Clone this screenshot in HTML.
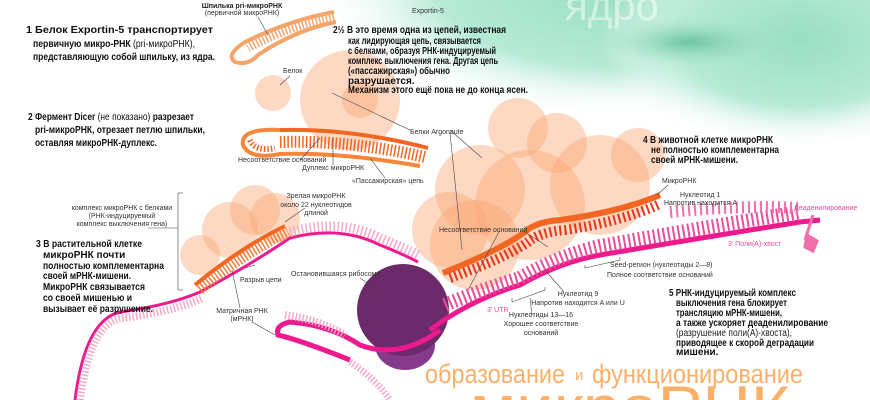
<!DOCTYPE html>
<html><head><meta charset="utf-8"><style>
html,body{margin:0;padding:0;background:#fff;width:870px;height:400px;overflow:hidden}
svg{display:block}
text{font-family:"Liberation Sans",sans-serif;fill:#222}
.b{font-weight:bold;font-size:10px;fill:#111}
.s{font-size:7px;fill:#333}
.p{font-size:7px;fill:#ec4d9a}
</style></head><body>
<svg width="870" height="400" viewBox="0 0 870 400" xmlns="http://www.w3.org/2000/svg" overflow="hidden">
<defs>
<radialGradient id="g1" cx="0.5" cy="0.5" r="0.5">
<stop offset="0" stop-color="#98dec2"/><stop offset="0.6" stop-color="#b6ead6"/><stop offset="1" stop-color="#ffffff" stop-opacity="0"/>
</radialGradient>
<radialGradient id="g2" cx="0.5" cy="0.5" r="0.5">
<stop offset="0" stop-color="#6cc4a0"/><stop offset="1" stop-color="#9fe0c6" stop-opacity="0"/>
</radialGradient>
</defs>
<ellipse cx="630" cy="-10" rx="320" ry="130" fill="url(#g1)"/>
<ellipse cx="800" cy="40" rx="200" ry="110" fill="url(#g1)"/>
<ellipse cx="690" cy="42" rx="85" ry="24" fill="url(#g2)"/>
<text x="565" y="20" style="font-size:42px;fill:#fff;fill-opacity:0.5">ядро</text>

<!-- circles -->
<g fill="#fba56f" fill-opacity="0.42">
<circle cx="273" cy="93" r="18"/>
<circle cx="350" cy="100" r="50"/>
<circle cx="360" cy="100" r="18"/>
<circle cx="518" cy="128" r="30"/>
<circle cx="557" cy="143" r="30"/>
<circle cx="480" cy="190" r="45"/>
<circle cx="530" cy="205" r="55"/>
<circle cx="475" cy="245" r="45"/>
<circle cx="600" cy="185" r="50"/>
<circle cx="638" cy="155" r="27"/>
<circle cx="450" cy="230" r="38"/>
<circle cx="230" cy="230" r="28"/>
<circle cx="255" cy="210" r="25"/>
<circle cx="275" cy="218" r="25"/>
<circle cx="200" cy="255" r="20"/>
</g>

<!-- hairpin 1 -->
<path d="M334,12 Q290,20 245,42 Q225,55 235,62 Q248,66 258,55 Q295,30 336,22" fill="none" stroke="#f7a46a" stroke-width="4"/>
<path d="M334,17 Q290,25 248,48" fill="none" stroke="#f7a46a" stroke-width="9" stroke-dasharray="1.5 2"/>

<!-- hairpin 2 duplex -->
<path d="M280,130 Q240,128 243,145 Q250,160 280,154 Q340,152 420,166" fill="none" stroke="#f6873a" stroke-width="4"/>
<path d="M280,130 Q350,128 428,148" fill="none" stroke="#f26522" stroke-width="4"/>
<path d="M280,142 Q350,140 425,157" fill="none" stroke="#f26522" stroke-width="12" stroke-dasharray="1.5 2.2"/>
<path d="M250,140 Q255,152 275,148" fill="none" stroke="#f26522" stroke-width="6" stroke-dasharray="1.5 2"/>

<!-- mRNA left -->
<path d="M75,400 Q85,320 120,312 Q170,305 200,292 Q250,265 290,238 Q340,225 380,245 Q405,255 418,262" fill="none" stroke="#ec1a8c" stroke-width="3"/>
<path d="M80,400 Q90,322 122,318 Q172,312 203,298" fill="none" stroke="#f7a8c9" stroke-width="8" stroke-dasharray="1.5 2"/>
<path d="M290,232 Q340,218 380,238 Q405,248 418,255" fill="none" stroke="#f7a8c9" stroke-width="10" stroke-dasharray="1.5 2.5"/>
<!-- mature miRNA left -->
<path d="M195,285 Q240,248 285,226" fill="none" stroke="#f26522" stroke-width="4"/>
<path d="M200,290 Q242,255 288,232" fill="none" stroke="#f47c3a" stroke-width="10" stroke-dasharray="1.5 2"/>

<!-- ribosome -->
<ellipse cx="405" cy="345" rx="30" ry="25" fill="#853a8c"/>
<circle cx="403" cy="310" r="46" fill="#6d2a6b"/>

<!-- mRNA loop through ribosome -->
<path d="M350,360 Q300,340 278,335 Q275,325 290,322 Q330,325 360,345 Q400,360 440,330" fill="none" stroke="#ec1a8c" stroke-width="5"/>
<path d="M285,315 Q320,320 345,335" fill="none" stroke="#f7a8c9" stroke-width="8" stroke-dasharray="1.5 2"/>
<path d="M350,362 Q375,378 390,400" fill="none" stroke="#f7a8c9" stroke-width="7" stroke-dasharray="1.5 2"/>

<!-- mRNA right -->
<path d="M430,330 Q470,300 520,285 Q560,262 600,255 Q700,238 800,222 L820,220" fill="none" stroke="#ec1a8c" stroke-width="5"/>
<path d="M445,305 Q480,290 520,278 Q560,255 600,246 Q700,228 800,212" fill="none" stroke="#ec4d9a" stroke-width="14" stroke-dasharray="2 3"/>
<path d="M670,212 Q740,205 800,208" fill="none" stroke="#f06ea9" stroke-width="12" stroke-dasharray="2 4"/>
<path d="M807,235 l10,6 -4,10 -8,-4z M805,240 l8,-25" fill="#f06ea9" stroke="#f06ea9" stroke-width="3"/>
<!-- miRNA right -->
<path d="M443,273 Q500,250 525,232 Q535,222 560,220 Q620,212 660,195" fill="none" stroke="#f26522" stroke-width="6"/>
<path d="M450,278 Q505,258 528,242 Q540,232 565,230 Q620,222 660,204" fill="none" stroke="#e8341c" stroke-width="10" stroke-dasharray="2 3"/>

<!-- leader lines -->
<g stroke="#444" stroke-width="0.6" fill="none">
<line x1="258" y1="17" x2="268" y2="35"/>
<line x1="290" y1="76" x2="280" y2="85"/>
<line x1="332" y1="93" x2="410" y2="130"/>
<line x1="450" y1="130" x2="482" y2="158"/>
<line x1="450" y1="133" x2="462" y2="250"/>
<line x1="300" y1="160" x2="320" y2="138"/>
<line x1="333" y1="165" x2="333" y2="138"/>
<line x1="385" y1="178" x2="370" y2="158"/>
<line x1="178" y1="193" x2="178" y2="290"/><line x1="178" y1="193" x2="183" y2="193"/><line x1="178" y1="290" x2="183" y2="290"/><line x1="148" y1="228" x2="178" y2="228"/>
<line x1="305" y1="208" x2="285" y2="222"/>
<line x1="245" y1="268" x2="255" y2="265"/>
<line x1="240" y1="308" x2="232" y2="270"/>
<line x1="252" y1="322" x2="275" y2="335"/>
<line x1="360" y1="278" x2="378" y2="290"/>
<line x1="500" y1="230" x2="468" y2="290"/>
<line x1="525" y1="232" x2="548" y2="247"/>
<line x1="668" y1="185" x2="657" y2="195"/>
<line x1="564" y1="292" x2="545" y2="270"/>
<line x1="532" y1="315" x2="530" y2="298"/>
<polyline points="512,298 512,302 545,290 545,287"/>
<polyline points="585,265 585,268 620,260 620,257"/>
</g>

<!-- texts -->
<text class="b" x="26" y="33" textLength="187" lengthAdjust="spacingAndGlyphs">1  Белок Exportin-5 транспортирует</text>
<text class="b" x="33" y="47" textLength="162" lengthAdjust="spacingAndGlyphs">первичную микро-РНК <tspan font-weight="normal">(pri-микроРНК),</tspan></text>
<text class="b" x="33" y="60" textLength="182" lengthAdjust="spacingAndGlyphs">представляющую собой шпильку, из ядра.</text>
<text x="242" y="8" text-anchor="middle" style="font-size:7px;font-weight:bold">Шпилька pri-микроРНК</text>
<text class="s" x="242" y="15" text-anchor="middle">(первичной микроРНК)</text>
<text class="s" x="412" y="13">Exportin-5</text>
<text class="b" x="333" y="33" textLength="173" lengthAdjust="spacingAndGlyphs">2½ В это время одна из цепей, известная</text>
<text class="b" x="348" y="44" textLength="133" lengthAdjust="spacingAndGlyphs">как лидирующая цепь, связывается</text>
<text class="b" x="348" y="54" textLength="148" lengthAdjust="spacingAndGlyphs">с белками, образуя РНК-индуцируемый</text>
<text class="b" x="348" y="64" textLength="150" lengthAdjust="spacingAndGlyphs">комплекс выключения гена. Другая цепь</text>
<text class="b" x="348" y="74" textLength="102" lengthAdjust="spacingAndGlyphs">(«пассажирская») обычно</text>
<text class="b" x="348" y="84">разрушается.</text>
<text class="b" x="348" y="93" textLength="180" lengthAdjust="spacingAndGlyphs">Механизм этого ещё пока не до конца ясен.</text>
<text class="s" x="283" y="73">Белок</text>
<text class="s" x="410" y="134">Белки Argonaute</text>
<text class="b" x="28" y="120" textLength="166" lengthAdjust="spacingAndGlyphs">2 Фермент Dicer <tspan font-weight="normal">(не показано)</tspan> разрезает</text>
<text class="b" x="35" y="133" textLength="170" lengthAdjust="spacingAndGlyphs">pri-микроРНК, отрезает петлю шпильки,</text>
<text class="b" x="35" y="146" textLength="122" lengthAdjust="spacingAndGlyphs">оставляя микроРНК-дуплекс.</text>
<text class="s" x="238" y="162">Несоответствие оснований</text>
<text class="s" x="302" y="170">Дуплекс микроРНК</text>
<text class="s" x="352" y="183">«Пассажирская» цепь</text>
<text class="b" x="643" y="143" textLength="130" lengthAdjust="spacingAndGlyphs">4 В животной клетке микроРНК</text>
<text class="b" x="651" y="153" textLength="128" lengthAdjust="spacingAndGlyphs">не полностью комплементарна</text>
<text class="b" x="651" y="163" textLength="87" lengthAdjust="spacingAndGlyphs">своей мРНК-мишени.</text>
<text class="s" x="662" y="183">МикроРНК</text>
<text class="s" x="680" y="197">Нуклеотид 1</text>
<text class="s" x="664" y="205">Напротив находится A</text>
<text class="p" x="794" y="210">Деаденилирование</text>
<text class="p" x="728" y="246">3' Поли(A)-хвост</text>
<text class="s" x="439" y="232">Несоответствие оснований</text>
<text class="s" x="610" y="267">Seed-регион (нуклеотиды 2—8)</text>
<text class="s" x="607" y="277">Полное соответствие оснований</text>
<text class="s" x="578" y="296" text-anchor="middle">Нуклеотид 9</text>
<text class="s" x="578" y="305" text-anchor="middle">Напротив находится A или U</text>
<text class="s" x="541" y="317" text-anchor="middle">Нуклеотиды 13—16</text>
<text class="s" x="541" y="326" text-anchor="middle">Хорошее соответствие</text>
<text class="s" x="541" y="335" text-anchor="middle">оснований</text>
<text class="p" x="487" y="312">3' UTR</text>
<text class="b" x="669" y="296" textLength="127" lengthAdjust="spacingAndGlyphs">5 РНК-индуцируемый комплекс</text>
<text class="b" x="676" y="306" textLength="111" lengthAdjust="spacingAndGlyphs">выключения гена блокирует</text>
<text class="b" x="676" y="316" textLength="106" lengthAdjust="spacingAndGlyphs">трансляцию мРНК-мишени,</text>
<text class="b" x="676" y="326" textLength="152" lengthAdjust="spacingAndGlyphs">а также ускоряет деаденилирование</text>
<text x="676" y="336" style="font-size:10px" textLength="116" lengthAdjust="spacingAndGlyphs">(разрушение поли(A)-хвоста),</text>
<text class="b" x="676" y="346" textLength="138" lengthAdjust="spacingAndGlyphs">приводящее к скорой деградации</text>
<text class="b" x="676" y="355">мишени.</text>
<text class="s" x="122" y="210" text-anchor="middle">комплекс микроРНК с белками</text>
<text class="s" x="122" y="218" text-anchor="middle">(РНК-индуцируемый</text>
<text class="s" x="122" y="226" text-anchor="middle">комплекс выключения гена)</text>
<text class="b" x="36" y="247" textLength="106" lengthAdjust="spacingAndGlyphs">3 В растительной клетке</text>
<text class="b" x="43" y="258">микроРНК почти</text>
<text class="b" x="43" y="269" textLength="121" lengthAdjust="spacingAndGlyphs">полностью комплементарна</text>
<text class="b" x="43" y="279" textLength="88" lengthAdjust="spacingAndGlyphs">своей мРНК-мишени.</text>
<text class="b" x="43" y="290" textLength="102" lengthAdjust="spacingAndGlyphs">МикроРНК связывается</text>
<text class="b" x="43" y="301" textLength="89" lengthAdjust="spacingAndGlyphs">со своей мишенью и</text>
<text class="b" x="43" y="312" textLength="110" lengthAdjust="spacingAndGlyphs">вызывает её разрушение.</text>
<text class="s" x="316" y="198" text-anchor="middle">Зрелая микроРНК</text>
<text class="s" x="316" y="207" text-anchor="middle">около 22 нуклеотидов</text>
<text class="s" x="316" y="215" text-anchor="middle">длиной</text>
<text class="s" x="240" y="282">Разрыв цепи</text>
<text class="s" x="291" y="276">Остановившаяся рибосома</text>
<text class="s" x="242" y="313" text-anchor="middle">Матричная РНК</text>
<text class="s" x="242" y="321" text-anchor="middle">(мРНК)</text>

<text x="470" y="428" style="font-size:60px;fill:#fbb06a" textLength="320" lengthAdjust="spacingAndGlyphs">микроРНК</text>
<text x="425" y="383" style="font-size:27px;fill:#fbb06a" textLength="140" lengthAdjust="spacingAndGlyphs">образование</text>
<text x="575" y="380" style="font-size:15px;fill:#fbb06a">и</text>
<text x="592" y="383" style="font-size:27px;fill:#fbb06a" textLength="211" lengthAdjust="spacingAndGlyphs">функционирование</text>
</svg>
</body></html>
